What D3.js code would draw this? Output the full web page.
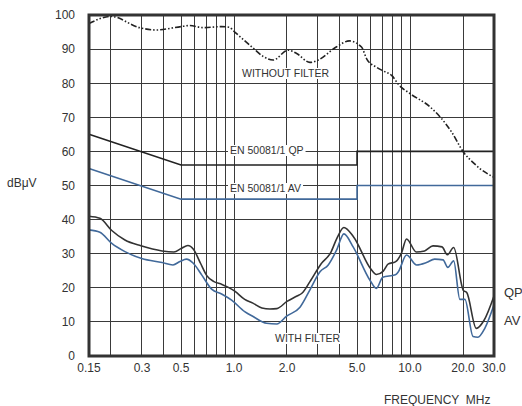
<!DOCTYPE html>
<html>
<head>
<meta charset="utf-8">
<script src="https://d3js.org/d3.v7.min.js"></script>
<style>
  body { margin: 0; background: #fff; }
  svg text { font-family: "Liberation Sans", Arial, sans-serif; fill: #333; }
</style>
</head>
<body>
<svg id="chart" width="522" height="406"></svg>
<script>
// frequency axis (MHz)
const xGrid = [0.2, 0.3, 0.4, 0.5, 0.6, 0.7, 0.8, 0.9, 1, 2, 3, 4, 5, 6, 7, 8, 9, 10, 20];
const xTickValues = [0.15, 0.3, 0.5, 1, 2, 5, 10, 20, 30];
const xTickLabels = ["0.15", "0.3", "0.5", "1.0", "2.0", "5.0", "10.0", "20.0", "30.0"];
const yTicks = [0, 10, 20, 30, 40, 50, 60, 70, 80, 90, 100];

// limit lines EN 50081/1
const qpLimit = [[0.15, 65], [0.5, 56], [5, 56], [5, 60], [30, 60]];
const avLimit = [[0.15, 55], [0.5, 46], [5, 46], [5, 50], [30, 50]];

// measured curves [MHz, dBuV]
const withoutFilter = [[0.15, 97.5], [0.2, 99.6], [0.29, 96.3], [0.36, 95.6], [0.5, 96.6], [0.56, 96.9],
  [0.67, 96.3], [0.85, 96.6], [0.94, 96.4], [1.01, 95], [1.29, 90.2], [1.47, 87.8], [1.67, 86.8],
  [2.03, 89.7], [2.27, 88.7], [2.7, 86.1], [3.01, 86.8], [3.83, 90.7], [4.52, 92.4], [5.3, 90.6],
  [5.69, 87], [6.39, 84.8], [7.1, 83.5], [7.89, 82.2], [8.64, 79.5], [9.97, 77], [12.96, 73.1],
  [15.06, 69.7], [17.27, 65.6], [20.1, 59.8], [23.1, 56.5], [24.9, 55], [30, 52.4]];

const withFilterQP = [[0.15, 41], [0.173, 40.4], [0.202, 36.8], [0.24, 34], [0.296, 32.3], [0.39, 30.8],
  [0.456, 30.5], [0.503, 31.6], [0.547, 32.4], [0.588, 31.3], [0.645, 27.2], [0.702, 23.5], [0.764, 21.9],
  [0.854, 21], [0.923, 20.2], [1.01, 19], [1.15, 16.6], [1.28, 15.5], [1.44, 14.1], [1.6, 13.8],
  [1.75, 13.9], [2.0, 16], [2.28, 17.6], [2.43, 18.4], [2.7, 21.8], [3.12, 27], [3.55, 30.4],
  [3.84, 34.5], [4.21, 37.7], [4.77, 35], [5.99, 25.5], [6.44, 23.9], [7.05, 24.9], [7.53, 27],
  [8.25, 27.6], [8.93, 30.1], [9.56, 34.3], [10.86, 30.5], [12.1, 30.8], [13.5, 32.3], [15.2, 32],
  [16.3, 29.7], [17.7, 31.8], [20.1, 19.2], [21.0, 18.6], [23.8, 8.1], [26.3, 10.4], [30, 17.6]];

const withFilterAV = [[0.15, 37], [0.173, 36.3], [0.202, 33], [0.24, 30.6], [0.299, 28.6], [0.39, 27.4],
  [0.45, 26.7], [0.493, 27.7], [0.537, 28.4], [0.587, 27.2], [0.655, 23.8], [0.746, 19.6], [0.85, 18.2],
  [0.969, 16.4], [1.15, 13], [1.29, 11.5], [1.53, 9.6], [1.75, 9.4], [1.99, 11.7], [2.37, 14.3],
  [2.7, 19.4], [3.08, 24.7], [3.43, 26.7], [3.83, 31.1], [4.21, 35.8], [4.75, 32], [5.91, 22.3],
  [6.44, 19.8], [7.0, 23.1], [8.25, 23.8], [8.58, 24.7], [9.56, 29.6], [10.9, 26.7], [12.4, 27.4],
  [13.8, 28.4], [15.4, 28.2], [16.4, 26], [17.7, 27.9], [19.2, 16.6], [20.5, 16.6], [22.8, 5.7],
  [24.3, 5.5], [26.6, 8.1], [30, 15]];

const dark = "#333";
const blue = "#41699a";

const svg = d3.select("#chart");
const plotL = 89, plotR = 494, plotT = 15, plotB = 356;

const x = d3.scaleLog().domain([0.15, 30]).range([plotL, plotR]);
const y = d3.scaleLinear().domain([0, 100]).range([plotB, plotT]);

// horizontal grid
svg.append("g").selectAll("line").data(yTicks).enter().append("line")
  .attr("x1", plotL).attr("x2", plotR)
  .attr("y1", d => y(d)).attr("y2", d => y(d))
  .attr("stroke", "#3a3a3a").attr("stroke-width", 1)
  .attr("shape-rendering", "crispEdges");

// vertical grid
svg.append("g").selectAll("line").data(xGrid).enter().append("line")
  .attr("x1", d => x(d)).attr("x2", d => x(d))
  .attr("y1", plotT).attr("y2", plotB)
  .attr("stroke", "#3a3a3a").attr("stroke-width", 1)
  .attr("shape-rendering", "crispEdges");

// white boxes behind the labels (break the grid)
const boxes = svg.append("g");

// y labels
svg.append("g").selectAll("text").data(yTicks).enter().append("text")
  .attr("x", 75).attr("y", d => y(d)).attr("dy", "0.36em")
  .attr("text-anchor", "end").attr("font-size", 12)
  .text(d => d);

// x labels
svg.append("g").selectAll("text").data(xTickValues).enter().append("text")
  .attr("x", d => x(d)).attr("y", 372)
  .attr("text-anchor", "middle").attr("font-size", 12)
  .text((d, i) => xTickLabels[i]);

const line = d3.line().x(d => x(d[0])).y(d => y(d[1]));
const curve = d3.line().x(d => x(d[0])).y(d => y(d[1])).curve(d3.curveMonotoneX);

// limits
svg.append("path").attr("d", line(qpLimit)).attr("fill", "none")
  .attr("stroke", "#222").attr("stroke-width", 1.6);
svg.append("path").attr("d", line(avLimit)).attr("fill", "none")
  .attr("stroke", blue).attr("stroke-width", 1.6);

// curves
svg.append("path").attr("d", curve(withoutFilter)).attr("fill", "none")
  .attr("stroke", "#222").attr("stroke-width", 1.6)
  .attr("stroke-dasharray", "6,2,1.5,2,1.5,2");
svg.append("path").attr("d", curve(withFilterQP)).attr("fill", "none")
  .attr("stroke", dark).attr("stroke-width", 1.6);
svg.append("path").attr("d", curve(withFilterAV)).attr("fill", "none")
  .attr("stroke", blue).attr("stroke-width", 1.6);

// frame
svg.append("rect").attr("x", plotL).attr("y", plotT)
  .attr("width", plotR - plotL).attr("height", plotB - plotT)
  .attr("fill", "none").attr("stroke", dark).attr("stroke-width", 3);

// annotations
function label(txt, lx, ly, size, box) {
  const t = svg.append("text").attr("x", lx).attr("y", ly)
    .attr("font-size", size).text(txt);
  if (box) {
    const b = t.node().getBBox();
    boxes.append("rect").attr("x", b.x - 2).attr("y", b.y + 1)
      .attr("width", b.width + 4).attr("height", b.height - 1)
      .attr("fill", "#fff");
  }
  return t;
}
label("WITHOUT FILTER", 242, 77, 10.5, true);
label("EN 50081/1 QP", 230, 154, 10.5, true);
label("EN 50081/1 AV", 230, 192, 10.5, true);
label("WITH FILTER", 275, 342, 10.5, true);
label("QP", 504, 297, 13, false);
label("AV", 504, 325, 13, false);
label("dBμV", 7, 187, 12, false);
svg.append("text").attr("x", 384).attr("y", 404).attr("font-size", 12)
  .style("white-space", "pre")
  .text("FREQUENCY  MHz");
</script>
</body>
</html>
